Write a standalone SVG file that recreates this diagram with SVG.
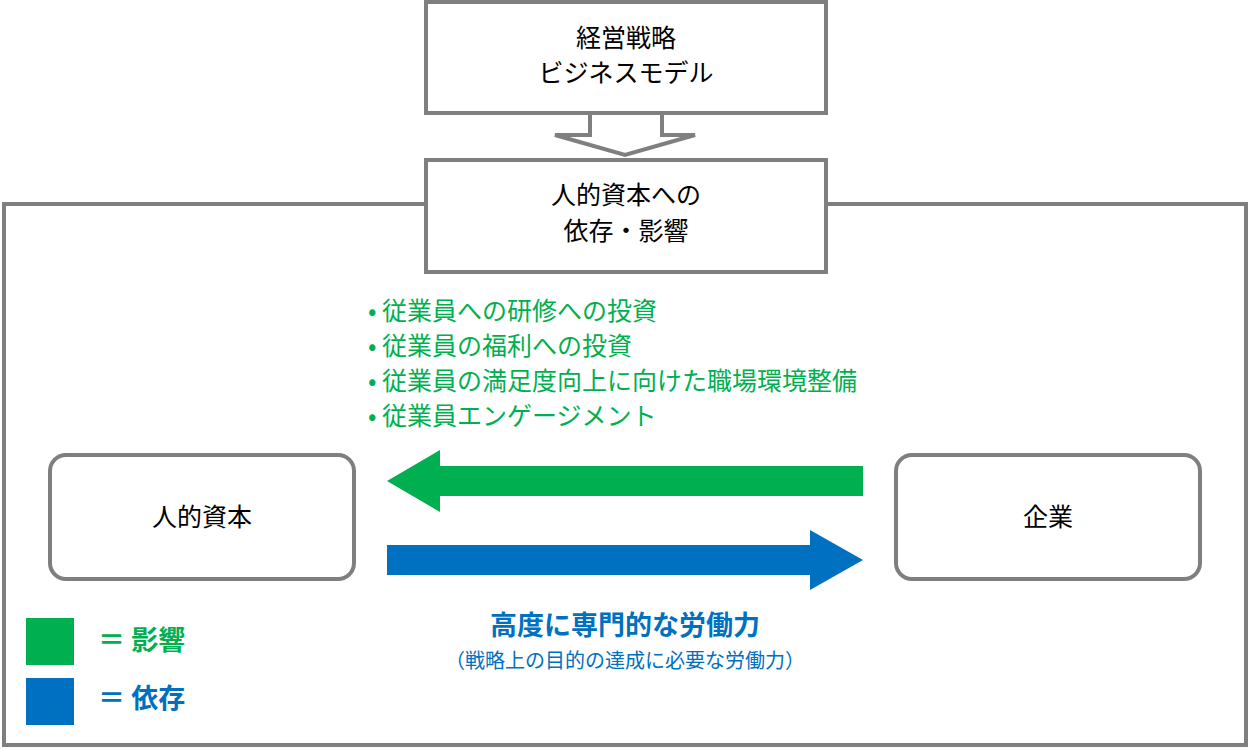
<svg xmlns="http://www.w3.org/2000/svg" width="1250" height="749" viewBox="0 0 1250 749">
<style>
.box{fill:#fff;stroke:#7f7f7f;stroke-width:4}
.t{font-family:"Noto Sans CJK JP","Noto Sans",sans-serif;font-size:25px;fill:#000;text-anchor:middle}
.g{font-family:"Noto Sans CJK JP",sans-serif;font-size:25px;fill:#00b050}
.b{font-family:"Noto Sans CJK JP",sans-serif;fill:#0070c0;text-anchor:middle}
</style>
<rect x="4" y="204" width="1242" height="541" fill="#fff" stroke="#7f7f7f" stroke-width="4"/>
<g id="connectors">
<polygon points="590,113 662,113 662,135 695,135 625,155 555,135 590,135" fill="#fff" stroke="#7f7f7f" stroke-width="4"/>
<polygon points="863,466 440,466 440,450 387,481 440,512 440,496 863,496" fill="#00b050"/>
<polygon points="387,545 810,545 810,530 863,560 810,590 810,575 387,575" fill="#0070c0"/>
</g>
<g id="strategy"><rect class="box" x="426" y="2" width="400" height="111"/>
<text class="t" x="626" y="47">経営戦略</text><text class="t" x="626" y="82">ビジネスモデル</text></g>
<g id="dependency"><rect class="box" x="426" y="160" width="400" height="112"/>
<text class="t" x="626" y="204">人的資本への</text><text class="t" x="626" y="240">依存・影響</text></g>
<g id="human"><rect class="box" x="50" y="455" width="304" height="124" rx="16"/>
<text class="t" x="202" y="526">人的資本</text></g>
<g id="company"><rect class="box" x="896" y="455" width="304" height="124" rx="16"/>
<text class="t" x="1048" y="526">企業</text></g>
<g id="impact-list" class="g">
<text x="368" y="320">•  従業員への研修への投資</text>
<text x="368" y="355">•  従業員の福利への投資</text>
<text x="368" y="390">•  従業員の満足度向上に向けた職場環境整備</text>
<text x="368" y="425">•  従業員エンゲージメント</text>
</g>
<g id="dep-label">
<text class="b" x="625" y="635" font-size="27" font-weight="bold">高度に専門的な労働力</text>
<text class="b" x="625" y="668" font-size="20">（戦略上の目的の達成に必要な労働力）</text>
</g>
<g id="legend">
<rect x="26" y="618" width="48" height="47" fill="#00b050"/>
<rect x="26" y="678" width="48" height="47" fill="#0070c0"/>
<text x="98" y="650" font-family="Noto Sans CJK JP,sans-serif" font-size="27" font-weight="bold" fill="#00b050">＝ 影響</text>
<text x="98" y="708" font-family="Noto Sans CJK JP,sans-serif" font-size="27" font-weight="bold" fill="#0070c0">＝ 依存</text>
</g>
</svg>
